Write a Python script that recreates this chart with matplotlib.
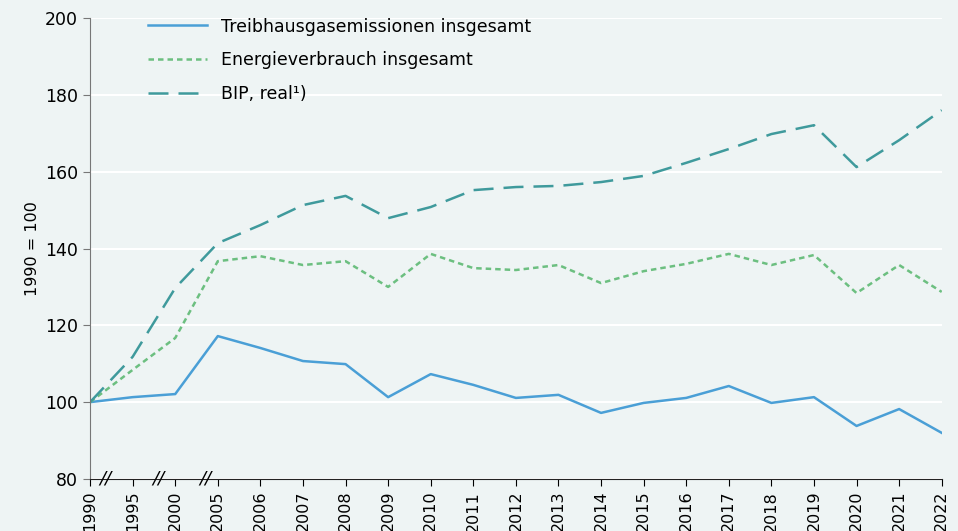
import numpy as np
import matplotlib.pyplot as plt

jahre = ['1990', '1995', '2000', '2005', '2006', '2007', '2008', '2009', '2010', '2011',
         '2012', '2013', '2014', '2015', '2016', '2017', '2018', '2019', '2020', '2021', '2022']
thg = [100, 101.3, 102.1, 117.2, 114.1, 110.7, 109.9, 101.3, 107.3, 104.5,
       101.1, 101.9, 97.2, 99.8, 101.1, 104.2, 99.8, 101.3, 93.8, 98.2, 92.0]
energie = [100, 108.4, 116.7, 136.7, 138.0, 135.7, 136.7, 130.0, 138.6, 134.9,
           134.4, 135.7, 131.0, 134.1, 136.0, 138.6, 135.7, 138.3, 128.4, 135.7, 128.7]
bip = [100, 111.8, 129.7, 141.4, 146.1, 151.3, 153.7, 147.9, 150.8, 155.2,
       156.0, 156.3, 157.3, 158.9, 162.3, 165.9, 169.8, 172.1, 161.2, 168.2, 176.0]
bruch = [0.35, 1.6, 2.7]  # Achsenbrüche

bg = '#eef4f4'
plt.rcParams['font.family'] = ['DejaVu Sans']

fig = plt.figure(figsize=(9.58, 5.31), dpi=100, facecolor=bg)
ax = fig.add_axes([0.094, 0.098, 0.889, 0.868], facecolor=bg)
x = np.arange(len(jahre))

ax.plot(x, thg, color='#4a9fd6', lw=1.8, label='Treibhausgasemissionen insgesamt')
ax.plot(x, energie, color='#6cbf80', lw=1.8, ls=(0, (2.2, 1.6)), label='Energieverbrauch insgesamt')
ax.plot(x, bip, color='#3f9a9c', lw=1.8, ls=(0, (8, 4)), label='BIP, real¹)')

ax.set_xlim(0, len(jahre) - 1)
ax.set_ylim(80, 200)
ax.set_yticks(range(80, 201, 20))
ax.set_xticks(x)
ax.set_xticklabels(jahre, rotation=90, fontsize=11.5)
ax.tick_params(axis='y', labelsize=12.5, length=5, color='#777777')
ax.tick_params(axis='x', length=5)
ax.grid(axis='y', color='white', lw=1.5)
ax.set_axisbelow(True)
for s in ['top', 'right']:
    ax.spines[s].set_visible(False)
ax.spines['left'].set_color('#777777')
ax.spines['bottom'].set_color('#222222')
ax.set_ylabel('1990 = 100', fontsize=11.5)

for b in bruch:
    ax.text(b, 80, '//', ha='center', va='center', fontsize=13, style='italic',
            clip_on=False)

ax.legend(loc='upper left', bbox_to_anchor=(0.05, 1.035), frameon=False, fontsize=12.5,
          handlelength=3.4, labelspacing=0.9)

fig.savefig('out.png', dpi=100, facecolor=bg)
